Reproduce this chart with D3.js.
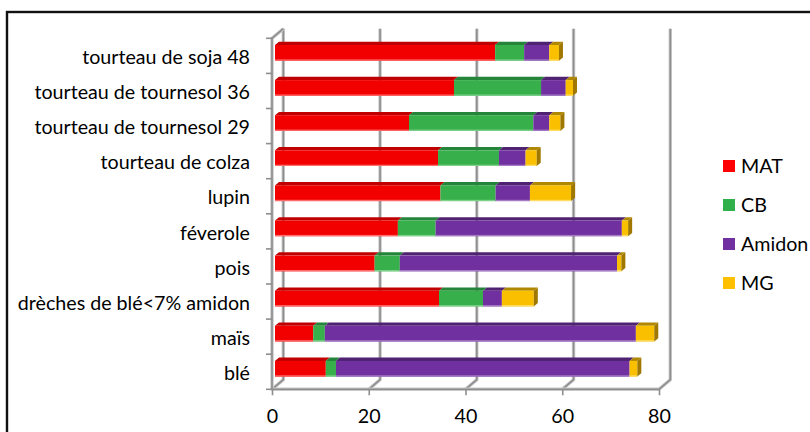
<!DOCTYPE html>
<html><head><meta charset="utf-8">
<script src="https://cdn.jsdelivr.net/npm/d3@7"></script>
<style>body{margin:0;background:#fff}svg{display:block}text{font-family:Lato,"Open Sans",sans-serif;fill:#000}</style>
</head><body><svg id="c" width="810" height="432"></svg>
<script>
const categories = ["tourteau de soja 48","tourteau de tournesol 36","tourteau de tournesol 29","tourteau de colza","lupin","féverole","pois","drèches de blé<7% amidon","maïs","blé"];
const MAT    = [45.5,37.0,27.7,33.7,34.2,25.4,20.6,33.9,7.9,10.5];
const CB     = [6.0,18.0,25.7,12.6,11.4,7.8,5.2,9.1,2.4,2.1];
const Amidon = [5.2,5.1,3.3,5.5,7.1,38.5,44.9,3.9,64.3,60.7];
const MG     = [2.0,1.5,2.3,2.3,8.5,1.3,0.9,6.6,3.8,1.6];
const seriesNames = ["MAT","CB","Amidon","MG"];
const xTicks = [0,20,40,60,80];

const colors = {MAT:{f:"#f20000",t:"#c00000",s:"#a80000",l:"#ff6a6a"},
  CB:{f:"#37b04b",t:"#23843a",s:"#1d6e30",l:"#7fd08b"},
  Amidon:{f:"#7030a0",t:"#4f2272",s:"#421c60",l:"#a57cc4"},
  MG:{f:"#fac000",t:"#b08800",s:"#a07800",l:"#ffdd66"}};
const legendColors = {MAT:"#ff0000",CB:"#2fb04a",Amidon:"#7030a0",MG:"#ffc000"};

const svg = d3.select("#c");
const x = d3.scaleLinear().domain([0,80]).range([272,659]);
const y = d3.scaleBand().domain(categories).range([38.3,389.3]);
const DX = 11.3, DY = -9.6;       // wall depth
const bOff = 3, bdx = 4, bdy = -3.3; // bar depth
const bTop = 6.7, bH = 15.7;
const yBot = y.range()[1], yTop = y.range()[0];

// font sizing: fit a Calibri-like width
let fs = 20;
{
  const t = svg.append("text").style("font-size","20px").text("tourteau de soja 48");
  const w = t.node().getComputedTextLength();
  fs = 20*168/w; t.remove();
}

// outer border
svg.append("rect").attr("x",7).attr("y",12).attr("width",900).attr("height",500)
  .attr("fill","none").attr("stroke","#111").attr("stroke-width",2.4);

// gridlines / walls
const g = svg.append("g");
function gline(pts){
  const line = d3.line();
  g.append("path").attr("d",line(pts)).attr("fill","none").attr("stroke","#c8c8c8").attr("stroke-width",3.4).attr("stroke-linejoin","round");
  g.append("path").attr("d",line(pts)).attr("fill","none").attr("stroke","#8e8e8e").attr("stroke-width",1.6).attr("stroke-linejoin","round");
}
xTicks.forEach(t=>{
  gline([[x(t)+DX, yTop+DY],[x(t)+DX, yBot+DY],[x(t), yBot]]);
});
gline([[x(0)+DX, yTop+DY],[x(0), yTop],[x(0), yBot],[x(80), yBot]]);

// axes
const ax = svg.append("g").attr("transform",`translate(0,${yBot})`)
  .call(d3.axisBottom(x).tickValues(xTicks).tickSize(6).tickPadding(0).tickSizeOuter(0));
ax.select(".domain").remove();
ax.selectAll("line").attr("stroke","#8e8e8e").attr("stroke-width",1.6);
ax.selectAll("text").attr("y",34).attr("dy",0).style("font-size",fs+"px").attr("font-family",null);

const ay = svg.append("g").attr("transform",`translate(${x(0)},0)`)
  .call(d3.axisLeft(y).tickSize(0).tickPadding(22));
ay.select(".domain").remove();
ay.selectAll("text").attr("dy",0).attr("y",8.2).style("font-size",fs+"px").attr("font-family",null);
// boundary ticks on category axis
const bounds = categories.map(c=>y(c)).concat([yBot]);
svg.append("g").selectAll("line").data(bounds).join("line")
  .attr("x1",x(0)-6).attr("x2",x(0)).attr("y1",d=>d).attr("y2",d=>d)
  .attr("stroke","#8e8e8e").attr("stroke-width",1.6);

// bars
const data = categories.map((c,i)=>({cat:c, vals:[MAT[i],CB[i],Amidon[i],MG[i]]}));
const bars = svg.append("g");
data.forEach(d=>{
  let acc = 0;
  const y0 = y(d.cat)+bTop;
  const segs = d.vals.map((v,k)=>{const s={name:seriesNames[k],a:acc,b:acc+v}; acc+=v; return s;});
  segs.forEach((s,k)=>{
    const x0 = x(s.a)+bOff, x1 = x(s.b)+bOff, c = colors[s.name];
    // top face
    bars.append("path").attr("d",`M${x0},${y0}L${x0+bdx},${y0+bdy}L${x1+bdx},${y0+bdy}L${x1},${y0}Z`).attr("fill",c.t);
    // front face
    bars.append("rect").attr("x",x0).attr("y",y0).attr("width",x1-x0).attr("height",bH).attr("fill",c.f);
    bars.append("rect").attr("x",x0).attr("y",y0+bH-1.3).attr("width",x1-x0).attr("height",1.3).attr("fill",c.l);
    if(k===segs.length-1){
      bars.append("path").attr("d",`M${x1},${y0}L${x1+bdx},${y0+bdy}L${x1+bdx},${y0+bdy+bH}L${x1},${y0+bH}Z`).attr("fill",c.s);
    }
  });
});

// legend
const lg = svg.append("g");
seriesNames.forEach((n,i)=>{
  const cy = 166 + i*39;
  lg.append("rect").attr("x",723).attr("y",cy-6).attr("width",12).attr("height",12).attr("fill",legendColors[n]);
  lg.append("text").attr("x",741).attr("y",cy+7).style("font-size",fs+"px").text(n);
});
</script></body></html>
